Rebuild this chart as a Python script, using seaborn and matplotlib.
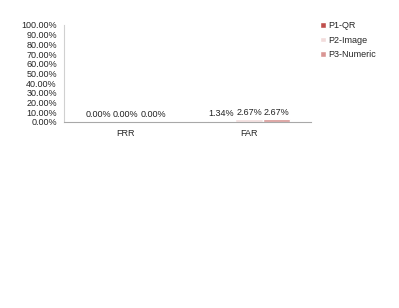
import matplotlib
matplotlib.use('Agg')
import matplotlib.pyplot as plt
import pandas as pd
import seaborn as sns
from matplotlib.ticker import FixedLocator, FuncFormatter

sns.set_style('white')
plt.rcParams['font.family'] = ['Liberation Sans', 'DejaVu Sans']

metrics = ['FRR', 'FAR']
series = ['P1-QR', 'P2-Image', 'P3-Numeric']
p1_qr = [0.00, 1.34]
p2_image = [0.00, 2.67]
p3_numeric = [0.00, 2.67]
colors = ['#c0504d', '#f2dcdb', '#d99694']
yticks = list(range(0, 101, 10))

rows = []
for name, vals in zip(series, [p1_qr, p2_image, p3_numeric]):
    for m, v in zip(metrics, vals):
        rows.append({'metric': m, 'series': name, 'value': v})
df = pd.DataFrame(rows)

fig = plt.figure(figsize=(3.99, 3.08), dpi=100)
ax = fig.add_axes([0.160, 0.604, 0.619, 0.315])
sns.barplot(data=df, x='metric', y='value', hue='series', palette=colors,
            width=0.67, saturation=1, ax=ax, legend=True)

for cont in ax.containers:
    ax.bar_label(cont, fmt='%.2f%%', padding=2, fontsize=6.5, color='#222222')

ax.set_ylim(0, 100)
ax.set_xlim(-0.5, 1.5)
ax.set_yticks(yticks)
ax.yaxis.set_major_formatter(FuncFormatter(lambda v, p: '%.2f%%' % v))
ax.xaxis.set_minor_locator(FixedLocator([-0.5, 0.5, 1.5]))
ax.tick_params(axis='x', which='major', length=0, labelsize=6.5, pad=5)
ax.tick_params(axis='x', which='minor', length=2.5, color='#c8c8c8', direction='out')
ax.tick_params(axis='y', length=3, color='#c8c8c8', labelsize=6.5, pad=2, direction='out')
ax.set_xlabel('')
ax.set_ylabel('')
for s in ['top', 'right']:
    ax.spines[s].set_visible(False)
ax.spines['left'].set_color('#d0d0d0')
ax.spines['bottom'].set_color('#a8a8a8')

handles, labels = ax.get_legend_handles_labels()
ax.legend(handles, labels, loc='upper left', bbox_to_anchor=(0.782, 0.958),
          bbox_transform=fig.transFigure, frameon=False, fontsize=6.5,
          handlelength=0.6, handleheight=0.6, handletextpad=0.3, labelspacing=0.62)

fig.savefig('out.png', dpi=100)
